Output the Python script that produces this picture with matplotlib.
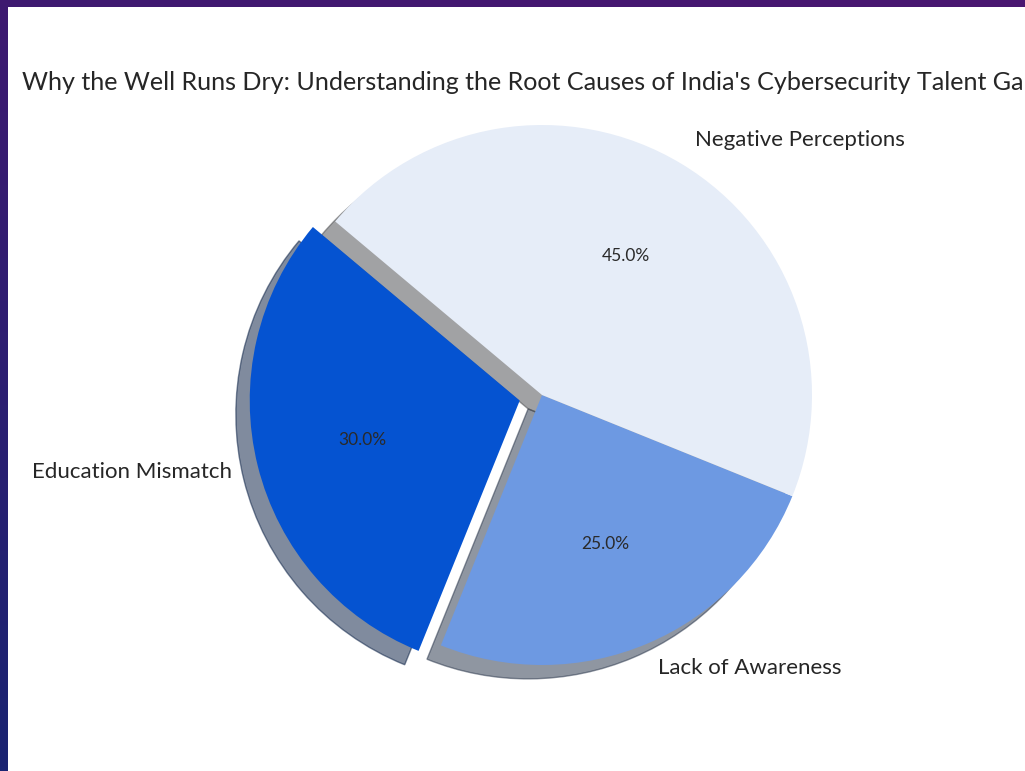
import numpy as np
import matplotlib
matplotlib.use("Agg")
import matplotlib.pyplot as plt
from matplotlib.patches import Rectangle

# ---- data ----
categories = ["Education Mismatch", "Lack of Awareness", "Negative Perceptions"]
shares = [30, 25, 45]
slice_colors = ["#0553D1", "#6D99E2", "#E6EDF8"]
explode = [0.085, 0, 0]
title = "Why the Well Runs Dry: Understanding the Root Causes of India's Cybersecurity Talent Gap"

W, H, DPI = 1025, 771, 100
FONT = ["Lato", "DejaVu Sans"]

fig = plt.figure(figsize=(W / DPI, H / DPI), dpi=DPI)

# slide background gradient (purple top -> navy bottom-left)
bg = fig.add_axes([0, 0, 1, 1])
bg.set_axis_off()
yy, xx = np.mgrid[0:1:200j, 0:1:200j]
t = np.clip(0.75 * yy + 0.25 * (1 - xx), 0, 1)
top = np.array([0x4A, 0x16, 0x70]) / 255
bot = np.array([0x1A, 0x24, 0x72]) / 255
img = top[None, None, :] * (1 - t[..., None]) + bot[None, None, :] * t[..., None]
bg.imshow(img, extent=[0, 1, 0, 1], aspect="auto", origin="upper")
bg.set_xlim(0, 1)
bg.set_ylim(0, 1)

# white panel
fig.patches.append(Rectangle((8 / W, 0), 1, 1 - 7 / H, transform=fig.transFigure,
                             facecolor="white", edgecolor="none", zorder=1))

# pie axes: centre (542,395) px, radius 270 px
cx, cy, R = 542, 395, 270
side = 2 * 1.25 * R
ax = fig.add_axes([(cx - side / 2) / W, (H - cy - side / 2) / H, side / W, side / H])
ax.set_zorder(2)
wedges, texts, autotexts = ax.pie(
    shares, labels=categories, colors=slice_colors, explode=explode,
    startangle=140, autopct="%1.1f%%", pctdistance=0.6, labeldistance=1.1,
    shadow={"ox": -0.037, "oy": -0.037},
    textprops={"family": FONT, "color": "#262626", "fontsize": 16},
)
for a in autotexts:
    a.set_fontsize(12.5)
    a.set_color("#2a2a2a")
ax.set_xlim(-1.25, 1.25)
ax.set_ylim(-1.25, 1.25)
ax.set_aspect("equal")

fig.text(22 / W, 1 - 82 / H, title, ha="left", va="center", fontsize=18.1,
         color="#262626", family=FONT, zorder=3)

fig.savefig("out.png", dpi=DPI)
